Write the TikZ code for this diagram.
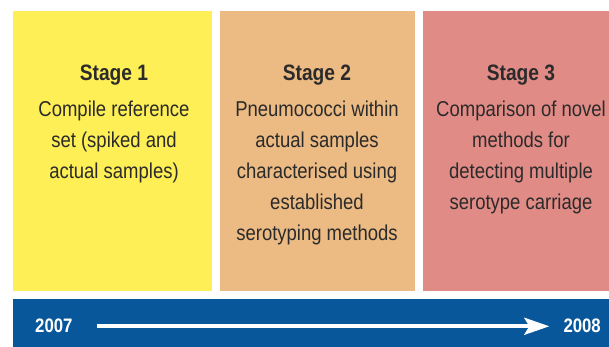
\documentclass[tikz,border=0pt]{standalone}
\usepackage{fontspec}
\setmainfont[FakeStretch=0.86]{Liberation Sans}
\usetikzlibrary{arrows.meta}
\definecolor{stageyellow}{HTML}{FDEF55}
\definecolor{stageorange}{HTML}{ECBA83}
\definecolor{stagepink}{HTML}{E18B86}
\definecolor{barblue}{HTML}{08579A}
\definecolor{txtgray}{HTML}{2B2B2B}
\tikzset{
  panel/.style={rectangle,inner sep=0,anchor=south west,minimum height=280},
  stagetitle/.style={anchor=base,inner sep=0,text=txtgray,font=\bfseries\fontsize{22.3}{26}\selectfont},
  stagetext/.style={anchor=base,inner sep=0,align=center,text=txtgray,font=\fontsize{21.5}{31}\selectfont},
  year/.style={inner sep=0,text=white,font=\bfseries\fontsize{19.5}{23}\selectfont},
}
\begin{document}
\begin{tikzpicture}[x=1pt,y=1pt]
\useasboundingbox (0,0) rectangle (609,347);
% the three stages
\node[panel,fill=stageyellow,minimum width=199](p1) at (13,56){};
\node[panel,fill=stageorange,minimum width=195](p2) at (220,56){};
\node[panel,fill=stagepink,minimum width=186](p3) at (423,56){};
\node[stagetitle](s1) at (114,266){Stage 1};
\node[stagetitle](s2) at (317,266){Stage 2};
\node[stagetitle](s3) at (521,266){Stage 3};
% base of a multi-line node sits on its last line
\node[stagetext](t1) at (114,168){Compile reference\\set (spiked and\\actual samples)};
\node[stagetext](t2) at (317,106){Pneumococci within\\actual samples\\characterised using\\established\\serotyping methods};
\node[stagetext](t3) at (521,137){Comparison of novel\\methods for\\detecting multiple\\serotype carriage};
% time line
\node[rectangle,fill=barblue,inner sep=0,anchor=south west,minimum width=596,minimum height=48](bar) at (13,0){};
\node[year,anchor=base west](y07) at (35,14){2007};
\node[year,anchor=base east](y08) at (601,14){2008};
\draw[white,line width=3.8,-{Stealth[length=25,width=17,inset=5]}] ([xshift=24]y07.east) -- ([xshift=-14]y08.west);
\end{tikzpicture}
\end{document}
